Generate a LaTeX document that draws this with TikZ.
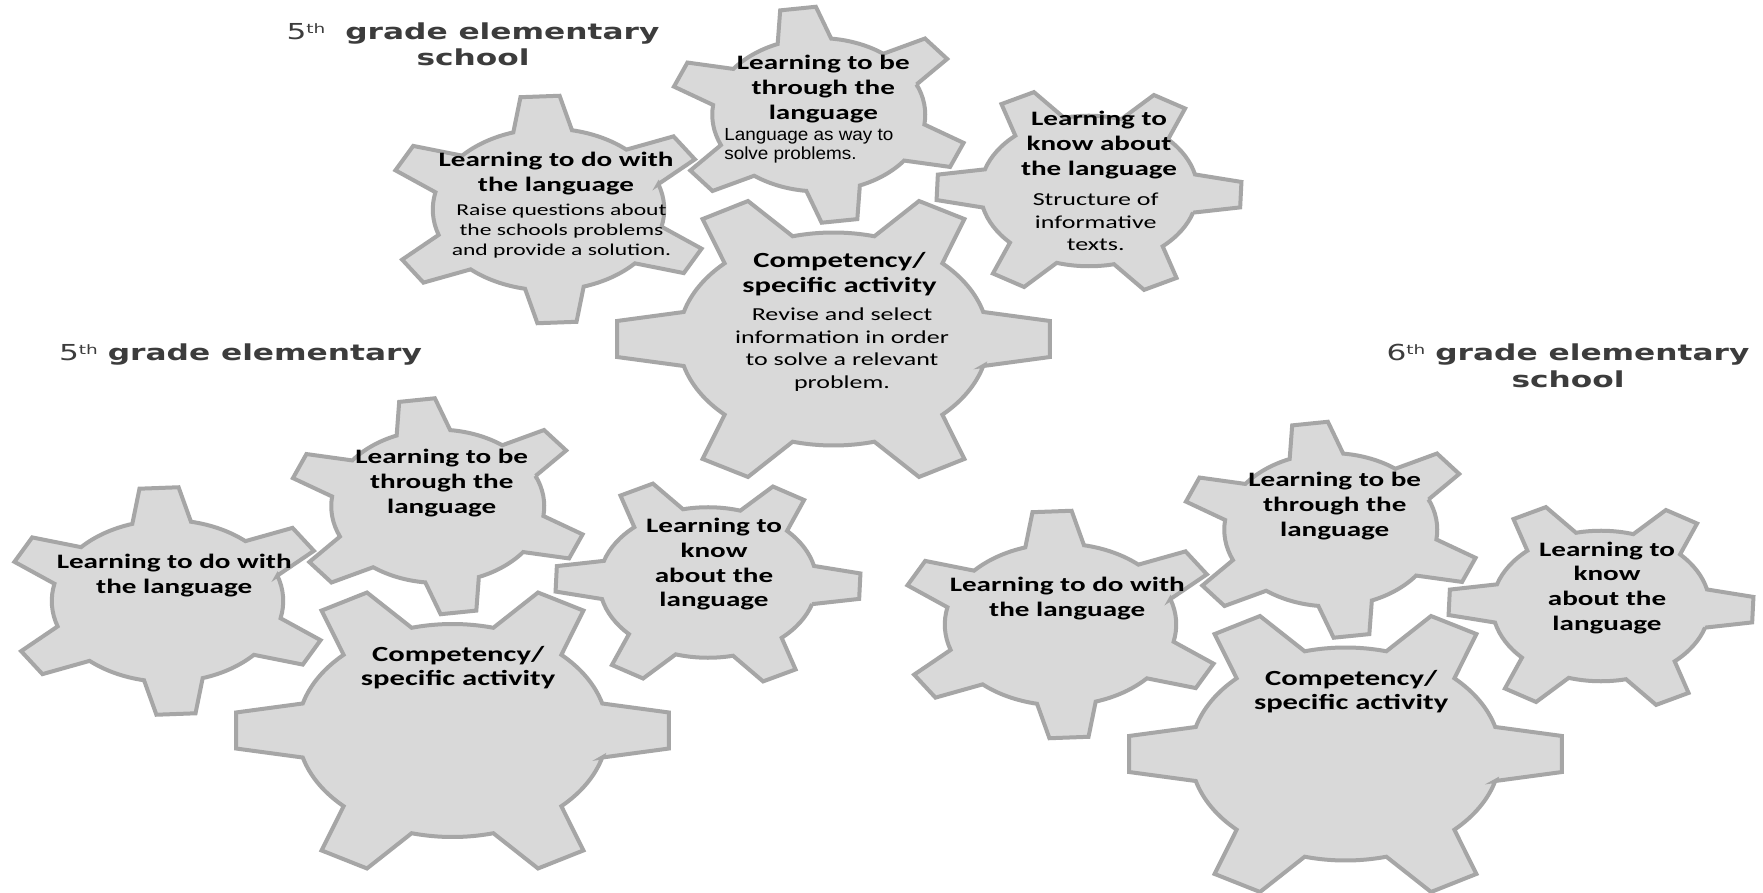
\documentclass[tikz,border=0pt]{standalone}
\usepackage{fontspec}
\newfontfamily\gearfont[FakeStretch=1.42]{Carlito}
\newfontfamily\arialfont[FakeStretch=1.08]{Liberation Sans}
\newfontfamily\verdfont[FakeStretch=1.42]{DejaVu Sans}
\definecolor{gearfill}{HTML}{D9D9D9}
\definecolor{gearline}{HTML}{A6A6A6}
\definecolor{titlegray}{HTML}{3C3C3C}
% gear: centre x, centre y, x radius, y radius, angle of first tooth
\newcommand{\drawgear}[5]{%
  \draw[gear, shift={(#1,#2)}, xscale=#3, yscale=#4]
    ({#5-14.7}:0.71)
    \foreach \k in {0,...,5}{
      -- ({#5+\k*60-6.9}:1) -- ({#5+\k*60+6.9}:1) -- ({#5+\k*60+14.7}:0.71)
      arc[start angle={#5+\k*60+14.7}, end angle={#5+\k*60+45.3}, radius=0.71]
    } -- cycle;}
\newcommand{\ctext}[3]{\parbox[t]{380pt}{\centering\fontsize{#1}{#2}\selectfont #3}}
\newcommand{\ltext}[3]{\parbox[t]{220pt}{\raggedright\fontsize{#1}{#2}\selectfont #3}}
\newcommand{\ordth}{\raisebox{6pt}{\fontsize{13}{13}\selectfont th}}
\tikzset{
  gear/.style={draw=gearline, fill=gearfill, line width=4pt, line join=miter},
  lbl/.style={inner sep=0pt, outer sep=0pt, text=black},
  gtitle/.style={lbl, anchor=base, font=\gearfont\bfseries},
  gbody/.style={lbl, anchor=base, font=\gearfont},
  abody/.style={lbl, anchor=base west, font=\arialfont},
  ttl/.style={lbl, anchor=base, text=titlegray, font=\verdfont}
}
\begin{document}
\begin{tikzpicture}[x=1pt, y=1pt]
\fill[white, use as bounding box] (0,0) rectangle (1763,892);
% ---------- top cluster ----------
\drawgear{833.5}{553}{218}{150}{0}
\drawgear{548.5}{682.5}{163}{114}{33}
\drawgear{818.75}{777.25}{150}{108}{38}
\drawgear{1089}{701}{153}{106}{-2}
% ---------- left cluster ----------
\drawgear{452.5}{161.5}{218}{150}{0}
\drawgear{167.5}{291}{163}{114}{33}
\drawgear{437.75}{385.75}{150}{108}{38}
\drawgear{708}{309.5}{153}{106}{-2}
% ---------- right cluster ----------
\drawgear{1345.5}{138}{218}{150}{0}
\drawgear{1060.5}{267.5}{163}{114}{33}
\drawgear{1330.75}{362.25}{150}{108}{38}
\drawgear{1601}{286}{153}{106}{-2}
% ---------- headings ----------
\node[ttl] (head1) at (473,852.7) {\ctext{22}{26.3}{5\ordth\ \ {\bfseries grade elementary}\\{\bfseries school}}};
\node[ttl] (head2) at (240.5,531) {\ctext{22}{26}{5\ordth\ {\bfseries grade elementary}}};
\node[ttl] (head3) at (1568,531) {\ctext{22}{27}{6\ordth\ {\bfseries grade elementary}\\{\bfseries school}}};
% ---------- top cluster texts ----------
\node[gtitle] (t1) at (556,725.3) {\ctext{20.5}{25}{Learning to do with\\the language}};
\node[gbody] (b1) at (561.5,676.3) {\ctext{16.6}{19.7}{Raise questions about\\the schools problems\\and provide a solution.}};
\node[gtitle] (t2) at (823.3,822) {\ctext{20.5}{25}{Learning to be\\through the\\language}};
\node[abody] (b2) at (724.3,751.3) {\ltext{17.5}{19.3}{Language as way to\\solve problems.}};
\node[gtitle] (t3) at (1099,766.3) {\ctext{20.5}{25}{Learning to\\know about\\the language}};
\node[gbody] (b3) at (1095.7,686.3) {\ctext{18.3}{22.5}{Structure of\\informative\\texts.}};
\node[gtitle] (t4) at (839.5,624) {\ctext{21.6}{25}{Competency/\\specific activity}};
\node[gbody] (b4) at (842,571) {\ctext{18.3}{22.4}{Revise and select\\information in order\\to solve a relevant\\problem.}};
% ---------- left cluster texts ----------
\node[gtitle] (t5) at (174.2,323.7) {\ctext{20.5}{25}{Learning to do with\\the language}};
\node[gtitle] (t6) at (441.7,428.7) {\ctext{20.5}{25}{Learning to be\\through the\\language}};
\node[gtitle] (t7) at (714,359.3) {\ctext{20.5}{24.7}{Learning to\\know\\about the\\language}};
\node[gtitle] (t8) at (458.2,230.3) {\ctext{21.6}{24}{Competency/\\specific activity}};
% ---------- right cluster texts ----------
\node[gtitle] (t9) at (1067.2,300.2) {\ctext{20.5}{25}{Learning to do with\\the language}};
\node[gtitle] (t10) at (1334.7,405.2) {\ctext{20.5}{25}{Learning to be\\through the\\language}};
\node[gtitle] (t11) at (1607,335.8) {\ctext{20.5}{24.7}{Learning to\\know\\about the\\language}};
\node[gtitle] (t12) at (1351.2,206.8) {\ctext{21.6}{24}{Competency/\\specific activity}};
\end{tikzpicture}
\end{document}
